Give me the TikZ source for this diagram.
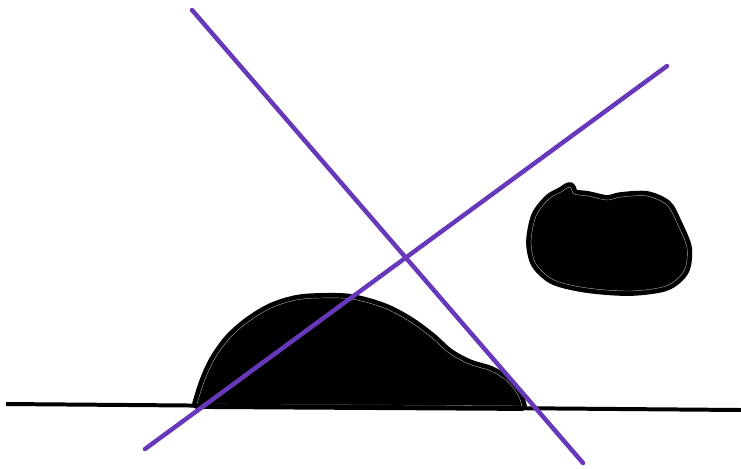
\documentclass[tikz,border=0pt]{standalone}
\usepackage{tikz}
\usetikzlibrary{calc}
\definecolor{linepurple}{RGB}{104,56,186}

\begin{document}
\begin{tikzpicture}[
  x=0.03cm, y=-0.03cm,
  blob/.style={fill=black, draw=black, line width=4pt, double=gray!65,
    double distance=0.35pt, line join=round},
  ground/.style={draw=black, line width=3.4pt},
  cut/.style={draw=linepurple, line width=3.8pt, line cap=round}
]
\useasboundingbox (0,0) rectangle (741,468);
% ends of the lines
\coordinate (gl) at (6,404);
\coordinate (gr) at (741,410);
\coordinate (a1) at (192,10);
\coordinate (a2) at (583,463);
\coordinate (b1) at (145,449);
\coordinate (b2) at (667,66);
% mound on the ground
\draw[blob] plot[smooth, tension=0.55] coordinates {(197,404) (204,382) (214,360)
  (229,339) (248,322) (271,308) (296,300) (320,298) (352,299) (384,308)
  (409,321) (431,337) (449,353) (469,364) (491,371) (507,381) (518,395) (522,406)}
  -- cycle;
% stone on the right
\draw[blob] plot[smooth cycle, tension=0.5] coordinates {(570,187) (574,194)
  (588,196) (607,200) (621,197) (647,196) (667,205) (677,223) (687,248)
  (684,271) (666,286) (630,291) (587,288) (554,280) (536,264) (531,242)
  (536,216) (549,199) (561,192)};
\draw[ground] (gl) -- (gr);
\draw[cut] (a1) -- (a2);
\draw[cut] (b1) -- (b2);
\end{tikzpicture}
\end{document}
